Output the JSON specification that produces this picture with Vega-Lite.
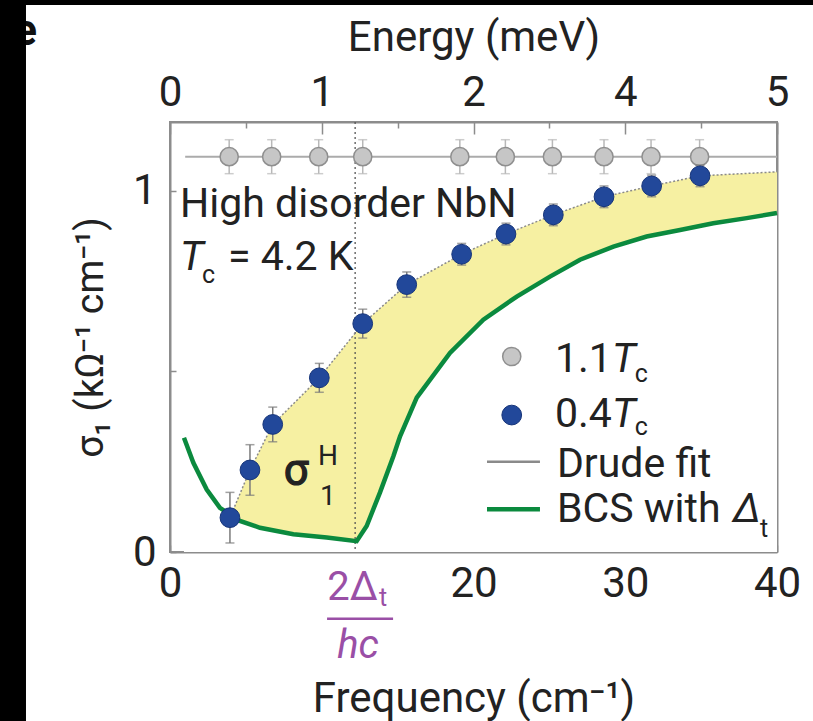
{
  "$schema": "https://vega.github.io/schema/vega-lite/v6.json",
  "width": 607,
  "height": 430,
  "autosize": {"type": "none"},
  "padding": {"left": 170, "top": 122, "right": 36, "bottom": 169},
  "background": "white",
  "config": {
    "font": "Roboto",
    "view": {"stroke": "#8c8c8c", "strokeWidth": 2},
    "axis": {
      "grid": false,
      "domainColor": "#8c8c8c",
      "domainWidth": 2,
      "tickColor": "#8c8c8c",
      "tickWidth": 1.5,
      "labelFont": "Roboto",
      "labelFontSize": 42,
      "labelColor": "#222222",
      "labelOverlap": false,
      "labelFlush": false,
      "titleFont": "Roboto",
      "titleFontSize": 42,
      "titleFontWeight": "normal",
      "titleColor": "#222222",
      "zindex": 1
    }
  },
  "resolve": {"axis": {"x": "independent", "y": "independent"}},
  "datasets": {
    "upper": [
      {"x": 3.95, "y": 0.095}, {"x": 5.27, "y": 0.227}, {"x": 6.77, "y": 0.353},
      {"x": 9.84, "y": 0.482}, {"x": 12.7, "y": 0.632}, {"x": 15.6, "y": 0.74},
      {"x": 19.22, "y": 0.824}, {"x": 22.14, "y": 0.88}, {"x": 25.26, "y": 0.933},
      {"x": 28.6, "y": 0.983}, {"x": 31.74, "y": 1.013}, {"x": 34.93, "y": 1.041},
      {"x": 40, "y": 1.052}
    ],
    "blue": [
      {"x": 3.95, "y": 0.095, "e": 0.07}, {"x": 5.27, "y": 0.227, "e": 0.07},
      {"x": 6.77, "y": 0.353, "e": 0.048}, {"x": 9.84, "y": 0.482, "e": 0.04},
      {"x": 12.7, "y": 0.632, "e": 0.04}, {"x": 15.6, "y": 0.74, "e": 0.035},
      {"x": 19.22, "y": 0.824, "e": 0.03}, {"x": 22.14, "y": 0.88, "e": 0.03},
      {"x": 25.26, "y": 0.933, "e": 0.03}, {"x": 28.6, "y": 0.983, "e": 0.03},
      {"x": 31.74, "y": 1.013, "e": 0.03}, {"x": 34.93, "y": 1.041, "e": 0.03}
    ],
    "gray": [
      {"x": 3.9, "y": 1.094, "e": 0.047}, {"x": 6.7, "y": 1.094, "e": 0.047},
      {"x": 9.8, "y": 1.094, "e": 0.047}, {"x": 12.7, "y": 1.094, "e": 0.047},
      {"x": 19.1, "y": 1.094, "e": 0.047}, {"x": 22.1, "y": 1.094, "e": 0.047},
      {"x": 25.2, "y": 1.094, "e": 0.047}, {"x": 28.6, "y": 1.094, "e": 0.047},
      {"x": 31.7, "y": 1.094, "e": 0.047}, {"x": 34.9, "y": 1.094, "e": 0.047}
    ],
    "bcs": [
      {"x": 0.92, "y": 0.316}, {"x": 1.54, "y": 0.247}, {"x": 2.42, "y": 0.173},
      {"x": 3.29, "y": 0.122}, {"x": 4.61, "y": 0.086}, {"x": 5.93, "y": 0.067},
      {"x": 8.13, "y": 0.049}, {"x": 10.33, "y": 0.04}, {"x": 12.3, "y": 0.03},
      {"x": 12.96, "y": 0.072}, {"x": 13.84, "y": 0.165}, {"x": 14.72, "y": 0.265},
      {"x": 15.16, "y": 0.32}, {"x": 16.26, "y": 0.427}, {"x": 18.45, "y": 0.551},
      {"x": 20.65, "y": 0.643}, {"x": 22.85, "y": 0.707}, {"x": 25.04, "y": 0.762},
      {"x": 27.02, "y": 0.809}, {"x": 29.22, "y": 0.845}, {"x": 31.41, "y": 0.873},
      {"x": 33.61, "y": 0.891}, {"x": 35.8, "y": 0.91}, {"x": 38.0, "y": 0.924},
      {"x": 40, "y": 0.938}
    ]
  },
  "layer": [
    {
      "data": {"name": "upper"},
      "mark": {"type": "area", "color": "#f6f0a2", "opacity": 1},
      "encoding": {
        "x": {"field": "x", "type": "quantitative", "scale": {"domain": [0, 40], "nice": false, "zero": false}, "axis": null},
        "y": {"field": "y", "type": "quantitative", "scale": {"domain": [0, 1.19], "nice": false, "zero": false}, "axis": null},
        "y2": {"datum": 0}
      }
    },
    {
      "data": {"name": "bcs"},
      "mark": {"type": "area", "color": "white", "opacity": 1},
      "encoding": {
        "x": {"field": "x", "type": "quantitative", "scale": {"domain": [0, 40], "nice": false, "zero": false}, "axis": null},
        "y": {"field": "y", "type": "quantitative", "scale": {"domain": [0, 1.19], "nice": false, "zero": false}, "axis": null},
        "y2": {"datum": 0}
      }
    },
    {
      "data": {"values": [{}]},
      "mark": {"type": "rule", "color": "#555555", "strokeDash": [2, 3], "strokeWidth": 1.3},
      "encoding": {
        "x": {"datum": 12.2, "type": "quantitative", "scale": {"domain": [0, 40], "nice": false, "zero": false}, "axis": null}
      }
    },
    {
      "data": {"values": [{"x": 1, "y": 1.094}, {"x": 40, "y": 1.094}]},
      "mark": {"type": "line", "color": "#ababab", "strokeWidth": 2},
      "encoding": {
        "x": {"field": "x", "type": "quantitative", "scale": {"domain": [0, 40], "nice": false, "zero": false},
          "axis": {
            "orient": "top",
            "values": [0, 5, 10, 15, 20, 25, 30, 35, 40],
            "labelExpr": "datum.value == 0 ? '0' : datum.value == 10 ? '1' : datum.value == 20 ? '2' : datum.value == 30 ? '4' : datum.value == 40 ? '5' : ''",
            "tickSize": {"condition": {"test": "datum.value % 10 === 0", "value": -12}, "value": -6},
            "labelPadding": 20,
            "title": "Energy (meV)",
            "titlePadding": 6
          }
        },
        "y": {"field": "y", "type": "quantitative", "scale": {"domain": [0, 1.19], "nice": false, "zero": false},
          "axis": {"orient": "right", "labels": false, "ticks": false, "title": null, "domain": true}
        }
      }
    },
    {
      "data": {"name": "upper"},
      "mark": {"type": "line", "color": "#8a8a8a", "strokeDash": [2, 2], "strokeWidth": 1.5},
      "encoding": {
        "x": {"field": "x", "type": "quantitative", "scale": {"domain": [0, 40], "nice": false, "zero": false}, "axis": null},
        "y": {"field": "y", "type": "quantitative", "scale": {"domain": [0, 1.19], "nice": false, "zero": false}, "axis": null}
      }
    },
    {
      "data": {"name": "bcs"},
      "mark": {"type": "line", "color": "#0b8a3e", "strokeWidth": 4.5},
      "encoding": {
        "x": {"field": "x", "type": "quantitative", "scale": {"domain": [0, 40], "nice": false, "zero": false},
          "axis": {
            "orient": "bottom",
            "values": [0, 5, 10, 15, 20, 25, 30, 35, 40],
            "labelExpr": "datum.value % 10 == 0 && datum.value != 10 ? datum.label : ''",
            "tickSize": {"condition": {"test": "datum.value % 10 === 0", "value": -7}, "value": -4},
            "labelPadding": 18,
            "title": "Frequency (cm⁻¹)",
            "titlePadding": 71
          }
        },
        "y": {"field": "y", "type": "quantitative", "scale": {"domain": [0, 1.19], "nice": false, "zero": false},
          "axis": {
            "orient": "left",
            "values": [0, 0.5, 1],
            "labelExpr": "datum.value == 0.5 ? '' : format(datum.value, 'd')",
            "tickSize": -6,
            "labelPadding": 20,
            "title": "σ₁ (kΩ⁻¹ cm⁻¹)",
            "titleFontSize": 39,
            "titlePadding": 22
          }
        }
      }
    },
    {
      "data": {"name": "gray"},
      "mark": {"type": "errorbar", "color": "#b8b8b8", "ticks": {"size": 9}, "thickness": 1.5},
      "encoding": {
        "x": {"field": "x", "type": "quantitative", "scale": {"domain": [0, 40], "nice": false, "zero": false}, "axis": null},
        "y": {"field": "y", "type": "quantitative", "scale": {"domain": [0, 1.19], "nice": false, "zero": false}, "axis": null},
        "yError": {"field": "e"}
      }
    },
    {
      "data": {"name": "gray"},
      "mark": {"type": "point", "filled": true, "fill": "#c6c6c6", "stroke": "#8f8f8f", "strokeWidth": 1.5, "size": 330, "opacity": 1},
      "encoding": {
        "x": {"field": "x", "type": "quantitative", "scale": {"domain": [0, 40], "nice": false, "zero": false}, "axis": null},
        "y": {"field": "y", "type": "quantitative", "scale": {"domain": [0, 1.19], "nice": false, "zero": false}, "axis": null}
      }
    },
    {
      "data": {"name": "blue"},
      "mark": {"type": "errorbar", "color": "#7a7a7a", "ticks": {"size": 9}, "thickness": 1.5},
      "encoding": {
        "x": {"field": "x", "type": "quantitative", "scale": {"domain": [0, 40], "nice": false, "zero": false}, "axis": null},
        "y": {"field": "y", "type": "quantitative", "scale": {"domain": [0, 1.19], "nice": false, "zero": false}, "axis": null},
        "yError": {"field": "e"}
      }
    },
    {
      "data": {"name": "blue"},
      "mark": {"type": "point", "filled": true, "fill": "#22489a", "stroke": "#17357a", "strokeWidth": 1, "size": 390, "opacity": 1},
      "encoding": {
        "x": {"field": "x", "type": "quantitative", "scale": {"domain": [0, 40], "nice": false, "zero": false}, "axis": null},
        "y": {"field": "y", "type": "quantitative", "scale": {"domain": [0, 1.19], "nice": false, "zero": false}, "axis": null}
      }
    },
    {
      "data": {"values": [{"x": 22.52, "y": 0.541}]},
      "mark": {"type": "point", "filled": true, "fill": "#c6c6c6", "stroke": "#8f8f8f", "strokeWidth": 1.5, "size": 330, "opacity": 1},
      "encoding": {
        "x": {"field": "x", "type": "quantitative", "scale": {"domain": [0, 40], "nice": false, "zero": false}, "axis": null},
        "y": {"field": "y", "type": "quantitative", "scale": {"domain": [0, 1.19], "nice": false, "zero": false}, "axis": null}
      }
    },
    {
      "data": {"values": [{"x": 22.52, "y": 0.379}]},
      "mark": {"type": "point", "filled": true, "fill": "#22489a", "stroke": "#17357a", "strokeWidth": 1, "size": 390, "opacity": 1},
      "encoding": {
        "x": {"field": "x", "type": "quantitative", "scale": {"domain": [0, 40], "nice": false, "zero": false}, "axis": null},
        "y": {"field": "y", "type": "quantitative", "scale": {"domain": [0, 1.19], "nice": false, "zero": false}, "axis": null}
      }
    },
    {
      "data": {"values": [{"x": 20.89, "y": 0.25}, {"x": 24.38, "y": 0.25}]},
      "mark": {"type": "line", "color": "#8a8a8a", "strokeWidth": 2.5},
      "encoding": {
        "x": {"field": "x", "type": "quantitative", "scale": {"domain": [0, 40], "nice": false, "zero": false}, "axis": null},
        "y": {"field": "y", "type": "quantitative", "scale": {"domain": [0, 1.19], "nice": false, "zero": false}, "axis": null}
      }
    },
    {
      "data": {"values": [{"x": 20.89, "y": 0.118}, {"x": 24.38, "y": 0.118}]},
      "mark": {"type": "line", "color": "#0b8a3e", "strokeWidth": 4.5},
      "encoding": {
        "x": {"field": "x", "type": "quantitative", "scale": {"domain": [0, 40], "nice": false, "zero": false}, "axis": null},
        "y": {"field": "y", "type": "quantitative", "scale": {"domain": [0, 1.19], "nice": false, "zero": false}, "axis": null}
      }
    },
    {
      "data": {"values": [
        {"t": "High disorder NbN", "x": 0.66, "y": 0.928},
        {"t": "= 4.2 K", "x": 3.82, "y": 0.78},
        {"t": "1.1", "x": 25.37, "y": 0.499},
        {"t": "0.4", "x": 25.37, "y": 0.347},
        {"t": "Drude fit", "x": 25.5, "y": 0.208},
        {"t": "BCS with", "x": 25.5, "y": 0.084}
      ]},
      "mark": {"type": "text", "align": "left", "baseline": "alphabetic", "fontSize": 41, "font": "Roboto", "color": "#222222"},
      "encoding": {
        "x": {"field": "x", "type": "quantitative", "scale": {"domain": [0, 40], "nice": false, "zero": false}, "axis": null},
        "y": {"field": "y", "type": "quantitative", "scale": {"domain": [0, 1.19], "nice": false, "zero": false}, "axis": null},
        "text": {"field": "t"}
      }
    },
    {
      "data": {"values": [
        {"t": "T", "x": 0.66, "y": 0.78},
        {"t": "T", "x": 29.13, "y": 0.499},
        {"t": "T", "x": 29.13, "y": 0.347},
        {"t": "Δ", "x": 37.1, "y": 0.084}
      ]},
      "mark": {"type": "text", "align": "left", "baseline": "alphabetic", "fontSize": 41, "fontStyle": "italic", "font": "Roboto", "color": "#222222"},
      "encoding": {
        "x": {"field": "x", "type": "quantitative", "scale": {"domain": [0, 40], "nice": false, "zero": false}, "axis": null},
        "y": {"field": "y", "type": "quantitative", "scale": {"domain": [0, 1.19], "nice": false, "zero": false}, "axis": null},
        "text": {"field": "t"}
      }
    },
    {
      "data": {"values": [
        {"t": "c", "x": 2.11, "y": 0.745},
        {"t": "c", "x": 30.62, "y": 0.47},
        {"t": "c", "x": 30.62, "y": 0.323},
        {"t": "t", "x": 38.88, "y": 0.042}
      ]},
      "mark": {"type": "text", "align": "left", "baseline": "alphabetic", "fontSize": 25, "font": "Roboto", "color": "#222222"},
      "encoding": {
        "x": {"field": "x", "type": "quantitative", "scale": {"domain": [0, 40], "nice": false, "zero": false}, "axis": null},
        "y": {"field": "y", "type": "quantitative", "scale": {"domain": [0, 1.19], "nice": false, "zero": false}, "axis": null},
        "text": {"field": "t"}
      }
    },
    {
      "data": {"values": [{"t": "σ", "x": 7.5, "y": 0.185}]},
      "mark": {"type": "text", "align": "left", "baseline": "alphabetic", "fontSize": 44, "fontWeight": "normal", "font": "Roboto", "color": "#222222", "stroke": "#222222", "strokeWidth": 1.2},
      "encoding": {
        "x": {"field": "x", "type": "quantitative", "scale": {"domain": [0, 40], "nice": false, "zero": false}, "axis": null},
        "y": {"field": "y", "type": "quantitative", "scale": {"domain": [0, 1.19], "nice": false, "zero": false}, "axis": null},
        "text": {"field": "t"}
      }
    },
    {
      "data": {"values": [{"t": "H", "x": 9.75, "y": 0.241}, {"t": "1", "x": 9.88, "y": 0.13}]},
      "mark": {"type": "text", "align": "left", "baseline": "alphabetic", "fontSize": 28, "font": "Roboto", "color": "#222222"},
      "encoding": {
        "x": {"field": "x", "type": "quantitative", "scale": {"domain": [0, 40], "nice": false, "zero": false}, "axis": null},
        "y": {"field": "y", "type": "quantitative", "scale": {"domain": [0, 1.19], "nice": false, "zero": false}, "axis": null},
        "text": {"field": "t"}
      }
    },
    {
      "data": {"values": [{"t": "2Δ", "x": 13.71, "y": -0.133}]},
      "mark": {"type": "text", "align": "right", "baseline": "alphabetic", "fontSize": 40, "font": "Roboto", "color": "#9a4fa6"},
      "encoding": {
        "x": {"field": "x", "type": "quantitative", "scale": {"domain": [0, 40], "nice": false, "zero": false}, "axis": null},
        "y": {"field": "y", "type": "quantitative", "scale": {"domain": [0, 1.19], "nice": false, "zero": false}, "axis": null},
        "text": {"field": "t"}
      }
    },
    {
      "data": {"values": [{"t": "t", "x": 13.77, "y": -0.149}]},
      "mark": {"type": "text", "align": "left", "baseline": "alphabetic", "fontSize": 25, "font": "Roboto", "color": "#9a4fa6"},
      "encoding": {
        "x": {"field": "x", "type": "quantitative", "scale": {"domain": [0, 40], "nice": false, "zero": false}, "axis": null},
        "y": {"field": "y", "type": "quantitative", "scale": {"domain": [0, 1.19], "nice": false, "zero": false}, "axis": null},
        "text": {"field": "t"}
      }
    },
    {
      "data": {"values": [{"t": "hc", "x": 12.39, "y": -0.293}]},
      "mark": {"type": "text", "align": "center", "baseline": "alphabetic", "fontSize": 40, "fontStyle": "italic", "font": "Roboto", "color": "#9a4fa6"},
      "encoding": {
        "x": {"field": "x", "type": "quantitative", "scale": {"domain": [0, 40], "nice": false, "zero": false}, "axis": null},
        "y": {"field": "y", "type": "quantitative", "scale": {"domain": [0, 1.19], "nice": false, "zero": false}, "axis": null},
        "text": {"field": "t"}
      }
    },
    {
      "data": {"values": [{"x": 10.35, "x2": 14.7, "y": -0.185}]},
      "mark": {"type": "rule", "color": "#9a4fa6", "strokeWidth": 2.5},
      "encoding": {
        "x": {"field": "x", "type": "quantitative", "scale": {"domain": [0, 40], "nice": false, "zero": false}, "axis": null},
        "x2": {"field": "x2"},
        "y": {"field": "y", "type": "quantitative", "scale": {"domain": [0, 1.19], "nice": false, "zero": false}, "axis": null}
      }
    },
    {
      "data": {"values": [{"t": "e", "x": -8.76, "y": 1.404}]},
      "mark": {"type": "text", "align": "right", "baseline": "alphabetic", "fontSize": 44, "fontWeight": "bold", "font": "Roboto", "color": "#111111"},
      "encoding": {
        "x": {"field": "x", "type": "quantitative", "scale": {"domain": [0, 40], "nice": false, "zero": false}, "axis": null},
        "y": {"field": "y", "type": "quantitative", "scale": {"domain": [0, 1.19], "nice": false, "zero": false}, "axis": null},
        "text": {"field": "t"}
      }
    },
    {
      "data": {"values": [{"x": -11.5, "x2": -9.49, "y": -0.5, "y2": 1.55}, {"x": -11.5, "x2": 42.5, "y": 1.514, "y2": 1.55}]},
      "mark": {"type": "rect", "color": "black", "opacity": 1},
      "encoding": {
        "x": {"field": "x", "type": "quantitative", "scale": {"domain": [0, 40], "nice": false, "zero": false}, "axis": null},
        "x2": {"field": "x2"},
        "y": {"field": "y", "type": "quantitative", "scale": {"domain": [0, 1.19], "nice": false, "zero": false}, "axis": null},
        "y2": {"field": "y2"}
      }
    }
  ]
}
